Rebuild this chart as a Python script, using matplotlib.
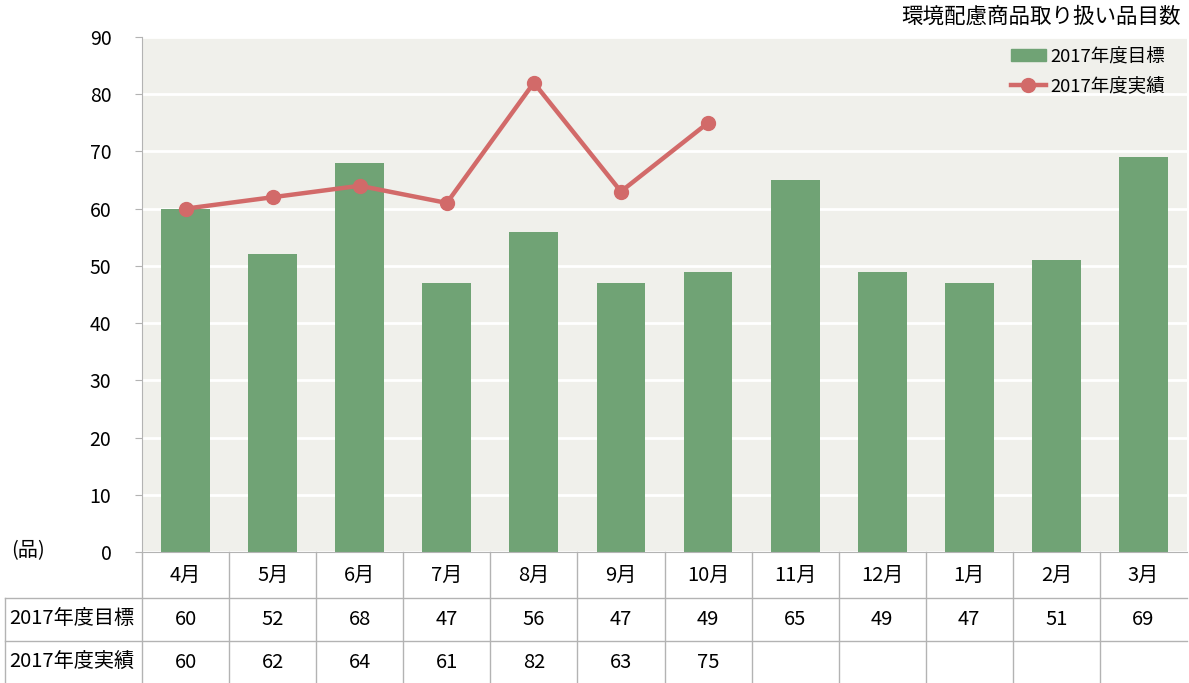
import matplotlib.pyplot as plt
from matplotlib.lines import Line2D

plt.rcParams['font.family'] = ['Noto Sans CJK JP', 'DejaVu Sans']

months = ['4月', '5月', '6月', '7月', '8月', '9月', '10月', '11月', '12月', '1月', '2月', '3月']
target = [60, 52, 68, 47, 56, 47, 49, 65, 49, 47, 51, 69]
actual = [60, 62, 64, 61, 82, 63, 75]
row_names = ['2017年度目標', '2017年度実績']
title = '環境配慮商品取り扱い品目数'
unit = '(品)'

green = '#70a375'
red = '#d26a69'
grid_c = '#b3b3b3'

W, H = 1189, 683
fig = plt.figure(figsize=(W / 100, H / 100), dpi=100)
left, right, top, bottom = 142, 1187, 37, 552
ax = fig.add_axes([left / W, (H - bottom) / H, (right - left) / W, (bottom - top) / H])
ax.set_facecolor('#f0f0eb')

x = list(range(len(months)))
ax.bar(x, target, width=0.56, color=green, zorder=2, label=row_names[0])
ax.plot(x[:len(actual)], actual, color=red, lw=3.2, marker='o', ms=10,
        zorder=3, label=row_names[1])

ax.set_xlim(-0.5, len(months) - 0.5)
ax.set_ylim(0, 90)
ax.set_yticks(range(0, 91, 10))
ax.yaxis.grid(True, color='white', lw=2)
ax.set_axisbelow(True)
ax.set_xticks([])
for s in ['top', 'right']:
    ax.spines[s].set_visible(False)
ax.spines['left'].set_color(grid_c)
ax.spines['bottom'].set_color(grid_c)
ax.tick_params(axis='y', length=5, color=grid_c, labelsize=14, pad=17)

# table below the plot
rows_y = [0, -(598 - 552) / 515, -(641 - 552) / 515, -(683 - 552) / 515]
tr = ax.get_xaxis_transform()
for yv in rows_y[1:3]:
    ax.plot([-0.5 - 137 / 87.1, len(months) - 0.5], [yv, yv], transform=tr,
            color=grid_c, lw=1, clip_on=False)
ax.plot([-0.5 - 137 / 87.1] * 2, [rows_y[1], rows_y[3]], transform=tr,
        color=grid_c, lw=1, clip_on=False)
for i in range(len(months)):
    ax.plot([i - 0.5, i - 0.5], [0, rows_y[3]], transform=tr,
            color=grid_c, lw=1, clip_on=False)

fs = 14.5
for i, m in enumerate(months):
    ax.text(i, (rows_y[0] + rows_y[1]) / 2, m, transform=tr, ha='center', va='center', fontsize=fs)
    ax.text(i, (rows_y[1] + rows_y[2]) / 2, str(target[i]), transform=tr, ha='center', va='center', fontsize=fs)
    if i < len(actual):
        ax.text(i, (rows_y[2] + rows_y[3]) / 2, str(actual[i]), transform=tr, ha='center', va='center', fontsize=fs)

fig.text(9 / W, 1 - (618 / H), row_names[0], ha='left', va='center', fontsize=fs)
fig.text(9 / W, 1 - (661 / H), row_names[1], ha='left', va='center', fontsize=fs)
fig.text(11 / W, 1 - (551 / H), unit, ha='left', va='center', fontsize=fs)
fig.text(1181 / W, 1 - (17 / H), title, ha='right', va='center', fontsize=15.5)

handles = [plt.Rectangle((0, 0), 1, 1, color=green),
           Line2D([0], [0], color=red, lw=3.2, marker='o', ms=10)]
ax.legend(handles, row_names, loc='upper right', frameon=False, fontsize=13.3,
          handlelength=1.9, handletextpad=0.25, labelspacing=0.65,
          bbox_to_anchor=(0.995, 1.012))

fig.savefig('out.png', dpi=100)
